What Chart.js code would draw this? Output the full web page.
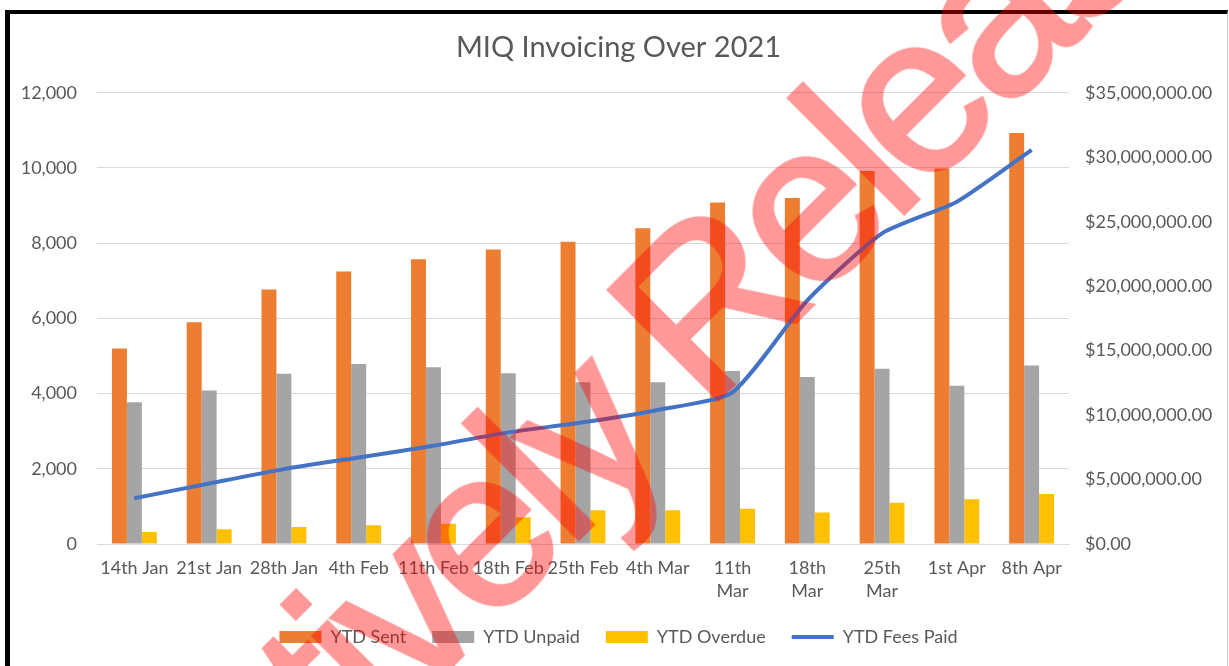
<!DOCTYPE html>
<html>
<head>
<meta charset="utf-8">
<title>MIQ Invoicing Over 2021</title>
<script src="https://cdn.jsdelivr.net/npm/chart.js@4.4.1/dist/chart.umd.min.js"></script>
<style>
  html, body { margin: 0; padding: 0; background: #fff; overflow: hidden; }
  #frame {
    position: absolute; left: 5px; top: 10px;
    width: 1217px; height: 660px;
    border-top: 4px solid #000; border-left: 5px solid #000; border-right: 1px solid #c8c8c8;
  }
  #wrap { position: absolute; left: 0; top: 0; width: 1217px; height: 652px; }
  /* the red release stamp lying over the whole chart */
  #stamp {
    position: absolute; left: 590px; top: 418px;
    transform: translate(-50%, -50%) rotate(-45deg);
    font: 224px "Liberation Sans", Arial, sans-serif;
    letter-spacing: -10px;
    color: #ff0000;
    -webkit-text-stroke: 4px #ff0000;
    opacity: 0.4;
    white-space: nowrap; pointer-events: none; z-index: 10;
  }
</style>
</head>
<body>
<div id="frame">
  <div id="wrap"><canvas id="chart"></canvas></div>
</div>
<div id="stamp">Proactively Released</div>
<script>
  // data
  var weeks = ['14th Jan', '21st Jan', '28th Jan', '4th Feb', '11th Feb', '18th Feb', '25th Feb',
               '4th Mar', ['11th', 'Mar'], ['18th', 'Mar'], ['25th', 'Mar'], '1st Apr', '8th Apr'];
  var ytdSent    = [5200, 5900, 6770, 7250, 7570, 7830, 8040, 8400, 9080, 9200, 9920, 9990, 10930];
  var ytdUnpaid  = [3770, 4080, 4530, 4790, 4700, 4540, 4300, 4300, 4600, 4440, 4660, 4210, 4750];
  var ytdOverdue = [320, 390, 450, 500, 540, 710, 900, 900, 940, 840, 1100, 1190, 1330];
  var ytdFeesPaid = [3550000, 4690000, 5810000, 6710000, 7620000, 8660000, 9440000,
                     10400000, 11770000, 18900000, 24100000, 26550000, 30570000];

  var countTicks  = { min: 0, max: 12000, step: 2000 };
  var dollarTicks = { min: 0, max: 35000000, step: 5000000 };

  var textColor = '#595959';
  var gridColor = '#d9d9d9';
  var tickFont  = { family: 'Lato', size: 18 };

  function barSet(label, values, color) {
    return {
      type: 'bar',
      label: label,
      data: values,
      backgroundColor: color,
      borderWidth: 0,
      pointStyle: 'rect',
      yAxisID: 'y',
      categoryPercentage: 0.6,
      barPercentage: 1.0
    };
  }

  new Chart(document.getElementById('chart'), {
    data: {
      labels: weeks,
      datasets: [
        barSet('YTD Sent', ytdSent, '#ED7D31'),
        barSet('YTD Unpaid', ytdUnpaid, '#A5A5A5'),
        barSet('YTD Overdue', ytdOverdue, '#FFC000'),
        {
          type: 'line',
          label: 'YTD Fees Paid',
          data: ytdFeesPaid,
          borderColor: '#4472C4',
          backgroundColor: '#4472C4',
          borderWidth: 4,
          pointRadius: 0,
          pointStyle: 'line',
          tension: 0.2,
          yAxisID: 'y1',
          order: -1 // keep the line above the bars
        }
      ]
    },
    options: {
      responsive: true,
      maintainAspectRatio: false,
      animation: false,
      layout: { padding: { top: 0, right: 0, bottom: 10, left: 0 } },
      plugins: {
        title: {
          display: true,
          text: 'MIQ Invoicing Over 2021',
          color: textColor,
          font: { family: 'Lato', size: 29, weight: 'normal' },
          padding: { top: 16, bottom: 28 }
        },
        legend: {
          position: 'bottom',
          labels: {
            usePointStyle: true,
            pointStyleWidth: 42,
            boxHeight: 12,
            padding: 26,
            color: textColor,
            font: tickFont,
            sort: function(a, b) { return a.datasetIndex - b.datasetIndex; }
          }
        },
        tooltip: { enabled: false }
      },
      scales: {
        x: {
          grid: { display: false, drawTicks: false },
          border: { display: true, color: gridColor },
          ticks: {
            color: textColor, font: { family: 'Lato', size: 18, lineHeight: 1.25 },
            padding: 13, maxRotation: 0, autoSkip: false
          },
          afterFit: function(scale) { scale.height = 58; }
        },
        y: {
          position: 'left',
          min: countTicks.min, max: countTicks.max,
          grid: { color: gridColor, drawTicks: false },
          border: { display: false },
          ticks: {
            stepSize: countTicks.step, padding: 20, color: textColor, font: tickFont,
            callback: function(v) { return v.toLocaleString('en-US'); }
          },
          afterFit: function(scale) { scale.width = 87; }
        },
        y1: {
          position: 'right',
          min: dollarTicks.min, max: dollarTicks.max,
          grid: { display: false, drawTicks: false },
          border: { display: false },
          ticks: {
            stepSize: dollarTicks.step, padding: 16, color: textColor, font: tickFont,
            callback: function(v) {
              return '$' + v.toLocaleString('en-US', { minimumFractionDigits: 2, maximumFractionDigits: 2 });
            }
          },
          afterFit: function(scale) { scale.width = 158; }
        }
      }
    }
  });
</script>
</body>
</html>
